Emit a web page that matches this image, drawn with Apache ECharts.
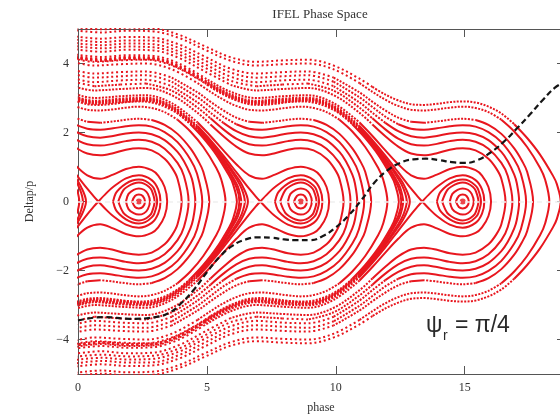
<!DOCTYPE html>
<html><head><meta charset="utf-8">
<script src="https://cdn.jsdelivr.net/npm/echarts@6/dist/echarts.min.js"></script>
<style>html,body{margin:0;padding:0;background:#fff;overflow:hidden}#c{width:560px;height:417px}</style>
</head><body><div id="c"></div>
<script>
// ---- values ----
// phase of the three bucket centres
const islandCenters = [2.36, 8.64, 14.92];
// axis ticks
const xTickValues = [0, 5, 10, 15];
const yTickValues = [-4, -2, 0, 2, 4];
// upper half of each passing orbit: [phase offset from a bucket centre, Deltap/p]
const pass1 = [[-15,4.26],[-14,4.19],[-13,4.24],[-12,4.22],[-11,4.00],[-10,3.58],[-9,3.18],[-8,3.00],[-7,3.05],[-6,3.08],[-5,2.85],[-4,2.29],[-3.5,1.90],[-3,1.48],[-2.5,1.08],[-2,0.76],[-1.5,0.66],[-1,0.78],[-0.5,0.94],[0,1.01],[0.5,0.91],[0.75,0.75],[1,0.42],[1.1,0]];
const pass3 = [[-15,4.41],[-14,4.34],[-13,4.40],[-12,4.38],[-11,4.16],[-10,3.77],[-9,3.38],[-8,3.22],[-7,3.26],[-6,3.29],[-5,3.08],[-4,2.57],[-3.5,2.23],[-3,1.89],[-2.5,1.59],[-2,1.39],[-1.5,1.34],[-1,1.40],[-0.5,1.50],[0,1.54],[0.5,1.48],[1,1.24],[1.3,0.96],[1.5,0.66],[1.66,0]];
const pass4 = [[-15,4.50],[-14,4.44],[-13,4.49],[-12,4.47],[-11,4.26],[-10,3.88],[-9,3.50],[-8,3.34],[-7,3.39],[-6,3.42],[-5,3.21],[-4,2.72],[-3.5,2.41],[-3,2.09],[-2.5,1.82],[-2,1.66],[-1.5,1.62],[-1,1.67],[-0.5,1.75],[0,1.79],[0.5,1.73],[1,1.53],[1.5,1.12],[1.75,0.74],[1.93,0]];
const pass5 = [[-15,4.59],[-14,4.53],[-13,4.58],[-12,4.56],[-11,4.35],[-10,3.98],[-9,3.62],[-8,3.46],[-7,3.51],[-6,3.53],[-5,3.34],[-4,2.87],[-3.5,2.57],[-3,2.28],[-2.5,2.04],[-2,1.89],[-1.5,1.85],[-1,1.90],[-0.5,1.97],[0,2.00],[0.5,1.95],[1,1.78],[1.5,1.44],[1.75,1.17],[2,0.78],[2.1,0.53],[2.19,0]];
const pass6 = [[-15,4.69],[-14,4.62],[-13,4.67],[-12,4.66],[-11,4.45],[-10,4.09],[-9,3.74],[-8,3.59],[-7,3.63],[-6,3.66],[-5,3.47],[-4,3.02],[-3.5,2.74],[-3,2.46],[-2.5,2.24],[-2,2.11],[-1.5,2.08],[-1,2.12],[-0.5,2.18],[0,2.21],[0.5,2.17],[1,2.01],[1.5,1.72],[2,1.22],[2.25,0.82],[2.46,0]];
const pass7 = [[-15,4.78],[-14,4.72],[-13,4.77],[-12,4.75],[-11,4.55],[-10,4.20],[-9,3.85],[-8,3.71],[-7,3.75],[-6,3.77],[-5,3.59],[-4,3.16],[-3.5,2.89],[-3,2.64],[-2.5,2.43],[-2,2.31],[-1.5,2.28],[-1,2.32],[-0.5,2.37],[0,2.40],[0.5,2.36],[1,2.22],[1.5,1.96],[2,1.54],[2.3,1.18],[2.5,0.86],[2.73,0]];
const pass9 = [[-15,4.96],[-14,4.90],[-13,4.95],[-12,4.93],[-11,4.74],[-10,4.40],[-9,4.08],[-8,3.94],[-7,3.98],[-6,4.00],[-5,3.83],[-4,3.43],[-3.5,3.18],[-3,2.95],[-2.5,2.77],[-2,2.66],[-1.5,2.64],[-1,2.67],[-0.5,2.72],[0,2.75],[0.5,2.71],[1,2.59],[1.5,2.37],[2,2.03],[2.5,1.58],[3,0.98],[3.2,0.63],[3.36,0]];
const pass10 = [[-15,5.05],[-14,4.99],[-13,5.04],[-12,5.02],[-11,4.83],[-10,4.50],[-9,4.18],[-8,4.05],[-7,4.09],[-6,4.11],[-5,3.94],[-4,3.56],[-3.5,3.32],[-3,3.10],[-2.5,2.93],[-2,2.82],[-1.5,2.80],[-1,2.83],[-0.5,2.88],[0,2.90],[0.5,2.87],[1,2.75],[1.5,2.55],[2,2.24],[2.5,1.84],[3,1.36],[3.5,0.75],[3.65,0.51],[3.8,0]];
// separatrix: branch left of the X-point (upper half) and the closed fish outline (upper half)
const sepLeft = [[-15,4.21],[-14,4.13],[-13,4.19],[-12,4.17],[-11,3.94],[-10,3.52],[-9,3.11],[-8,2.92],[-7,2.98],[-6,3.01],[-5,2.78],[-4,2.19],[-3.5,1.78],[-3,1.33],[-2.5,0.85],[-2,0.37],[-1.75,0.15],[-1.57,0]];
const sepLoop = [[-1.57,0],[-1.25,0.25],[-1,0.42],[-0.5,0.67],[0,0.76],[0.5,0.62],[0.75,0.35],[0.84,0]];
// trapped orbits inside the bucket (upper half)
const ring1 = [[-1.0,0],[-0.9,0.23],[-0.75,0.37],[-0.5,0.52],[-0.25,0.61],[0,0.64],[0.25,0.60],[0.5,0.46],[0.6,0.35],[0.71,0]];
const ring2 = [[-0.8,0],[-0.6,0.33],[-0.4,0.45],[-0.2,0.52],[0,0.55],[0.2,0.52],[0.4,0.42],[0.5,0.32],[0.61,0]];
const ring3 = [[-0.5,0],[-0.4,0.22],[-0.2,0.34],[0,0.38],[0.2,0.34],[0.35,0.22],[0.43,0]];
const ring4 = [[-0.26,0],[-0.15,0.16],[0,0.20],[0.15,0.16],[0.24,0]];
// the same energies outside the bucket, to the left of the X-point (upper half)
const tail1 = [[-15,4.18],[-14,4.11],[-13,4.17],[-12,4.15],[-11,3.92],[-10,3.50],[-9,3.08],[-8,2.89],[-7,2.95],[-6,2.98],[-5,2.74],[-4,2.15],[-3.5,1.73],[-3,1.26],[-2.5,0.74],[-2.25,0.44],[-2.05,0]];
const tail2 = [[-15,4.17],[-14,4.10],[-13,4.15],[-12,4.14],[-11,3.90],[-10,3.48],[-9,3.06],[-8,2.88],[-7,2.93],[-6,2.96],[-5,2.72],[-4,2.13],[-3.5,1.70],[-3,1.22],[-2.5,0.66],[-2.3,0.38],[-2.17,0]];
const tail3 = [[-15,4.15],[-14,4.08],[-13,4.14],[-12,4.12],[-11,3.88],[-10,3.46],[-9,3.04],[-8,2.85],[-7,2.90],[-6,2.94],[-5,2.70],[-4,2.09],[-3.5,1.66],[-3,1.15],[-2.5,0.53],[-2.4,0.35],[-2.31,0]];
const tail4 = [[-15,4.14],[-14,4.07],[-13,4.12],[-12,4.11],[-11,3.87],[-10,3.44],[-9,3.02],[-8,2.83],[-7,2.88],[-6,2.92],[-5,2.68],[-4,2.06],[-3.5,1.63],[-3,1.11],[-2.5,0.42],[-2.38,0]];
// black dashed curve
const dashedPhase = [0,1,2,3,3.6,4,4.5,5,5.5,6,6.5,7,7.5,8,8.5,9,9.5,10,10.5,11,11.5,12,12.5,13,13.5,14,14.5,15,15.5,16,16.5,17,17.5,18,18.5,18.85];
const dashedDelta = [-3.45,-3.35,-3.40,-3.35,-3.2,-2.95,-2.55,-2.05,-1.6,-1.28,-1.1,-1.04,-1.05,-1.1,-1.12,-1.12,-1.0,-0.75,-0.4,0.05,0.55,0.9,1.12,1.22,1.24,1.2,1.14,1.12,1.2,1.42,1.72,2.1,2.5,2.92,3.3,3.45];

// ---- build the option ----
const RED = '#e8161e';
const X_MIN = 0, X_MAX = 18.85;
const dashStyles = ['solid', [2, 1.4], [2, 2.8]];
const series = [];

function mirrorOpen(top) {
  const bottom = top.slice(0, -1).reverse().map(p => [p[0], -p[1]]);
  return top.concat(bottom);
}
function mirrorLoop(top) {
  const bottom = top.slice(1, -1).reverse().map(p => [p[0], -p[1]]);
  return top.concat(bottom, [top[0]]);
}
function inRange(x) { return x >= X_MIN && x <= X_MAX; }
function tierOf(a, b) {
  const m = (Math.abs(a) + Math.abs(b)) / 2;
  return m >= 3.4 ? 2 : (m >= 2.3 ? 1 : 0);
}
function pushRun(run, t) {
  if (run.length < 2) return;
  series.push({
    type: 'line', data: run, smooth: 0.35, symbol: 'none', showSymbol: false,
    silent: true, animation: false, clip: true, z: 2,
    lineStyle: { color: RED, width: 2, type: dashStyles[t] }
  });
}
function addPath(pts) {
  const keep = pts.filter((p, i) => inRange(p[0]) ||
    (i > 0 && inRange(pts[i - 1][0])) || (i < pts.length - 1 && inRange(pts[i + 1][0])));
  if (keep.length < 2) return;
  let run = [keep[0]], t = null;
  for (let i = 1; i < keep.length; i++) {
    const ti = tierOf(keep[i - 1][1], keep[i][1]);
    if (t === null) t = ti;
    if (ti !== t) { pushRun(run, t); run = [keep[i - 1]]; t = ti; }
    run.push(keep[i]);
  }
  pushRun(run, t);
}

const openPaths = [pass1, pass3, pass4, pass5, pass6, pass7, pass9, pass10,
  tail1, tail2, tail3, tail4].map(mirrorOpen);
const loopPaths = [sepLoop, ring1, ring2, ring3, ring4].map(mirrorLoop);
const halfPaths = [sepLeft, sepLeft.map(p => [p[0], -p[1]])];
const templates = openPaths.concat(loopPaths, halfPaths);

islandCenters.forEach(c => {
  templates.forEach(path => addPath(path.map(p => [c + p[0], p[1]])));
});

series.push({
  type: 'scatter', data: islandCenters.map(c => [c, 0]), symbol: 'circle', symbolSize: 6,
  itemStyle: { color: RED }, silent: true, animation: false, z: 3
});

series.push({
  type: 'line', data: dashedPhase.map((x, i) => [x, dashedDelta[i]]), smooth: 0.5,
  symbol: 'none', showSymbol: false, silent: true, animation: false, z: 10,
  lineStyle: { color: '#151515', width: 2.2, type: [6, 3.5] },
  markLine: {
    silent: true, symbol: ['none', 'none'], label: { show: false }, animation: false,
    lineStyle: { color: '#f0f0f0', type: [5, 4], width: 1.5 },
    data: [{ yAxis: 0 }]
  }
});

const axisCol = '#555';
const serif = 'Liberation Serif';
const labelStyle = { color: '#333', fontFamily: serif, fontSize: 12 };

const option = {
  animation: false,
  backgroundColor: '#fff',
  title: {
    text: 'IFEL Phase Space', left: 320, top: 8, textAlign: 'center', padding: 0,
    textStyle: { fontFamily: serif, fontWeight: 'normal', fontSize: 13, color: '#333' }
  },
  grid: { left: 78, right: -4, top: 29, bottom: 43, containLabel: false, outerBoundsMode: 'none' },
  xAxis: [{
    type: 'value', min: X_MIN, max: X_MAX, position: 'bottom',
    axisLine: { show: true, onZero: false, lineStyle: { color: axisCol, width: 1 } },
    axisTick: { show: true, inside: true, length: 8, customValues: xTickValues.slice(1), lineStyle: { color: axisCol } },
    axisLabel: Object.assign({ customValues: xTickValues, margin: 8 }, labelStyle),
    splitLine: { show: false },
    name: 'phase', nameLocation: 'middle', nameGap: 28,
    nameTextStyle: { fontFamily: serif, fontSize: 12, color: '#333' }
  }, {
    type: 'value', min: X_MIN, max: X_MAX, position: 'top',
    axisLine: { show: true, onZero: false, lineStyle: { color: axisCol, width: 1 } },
    axisTick: { show: true, inside: true, length: 8, customValues: xTickValues.slice(1), lineStyle: { color: axisCol } },
    axisLabel: { show: false }, splitLine: { show: false }
  }],
  yAxis: [{
    type: 'value', min: -5, max: 5, position: 'left',
    axisLine: { show: true, onZero: false, lineStyle: { color: axisCol, width: 1 } },
    axisTick: { show: true, inside: true, length: 7, customValues: yTickValues, lineStyle: { color: axisCol } },
    axisLabel: Object.assign({ customValues: yTickValues, margin: 9,
      formatter: v => (v < 0 ? '\u2212' + Math.abs(v) : String(v)) }, labelStyle),
    splitLine: { show: false },
    name: 'Deltap/p', nameLocation: 'middle', nameGap: 42, nameRotate: 90,
    nameTextStyle: { fontFamily: serif, fontSize: 12, color: '#333' }
  }, {
    type: 'value', min: -5, max: 5, position: 'right',
    axisLine: { show: true, onZero: false, lineStyle: { color: axisCol, width: 1 } },
    axisTick: { show: true, inside: true, length: 7, customValues: yTickValues, lineStyle: { color: axisCol } },
    axisLabel: { show: false }, splitLine: { show: false }
  }],
  graphic: [
    { type: 'text', left: 426, top: 314, silent: true,
      style: { text: '\u03c8', fontFamily: 'Liberation Sans', fontSize: 23, fill: '#2a2a2a' } },
    { type: 'text', left: 443, top: 329, silent: true,
      style: { text: 'r', fontFamily: 'Liberation Sans', fontSize: 14, fill: '#2a2a2a' } },
    { type: 'text', left: 455, top: 314, silent: true,
      style: { text: '= \u03c0/4', fontFamily: 'Liberation Sans', fontSize: 23, fill: '#2a2a2a' } }
  ],
  series: series
};

const chart = echarts.init(document.getElementById('c'), null, { renderer: 'canvas' });
chart.setOption(option);
</script>
</body></html>
